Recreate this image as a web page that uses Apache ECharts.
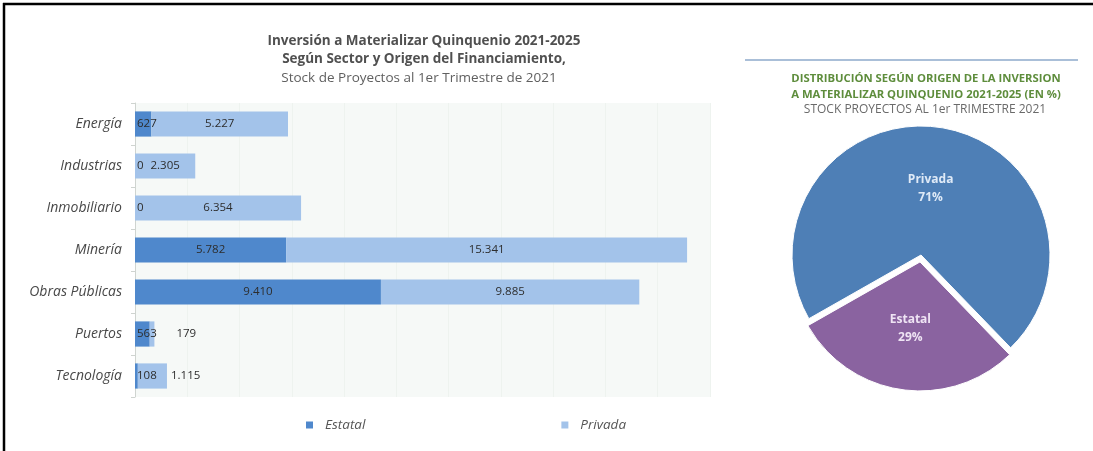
<!DOCTYPE html>
<html>
<head>
<meta charset="utf-8">
<script src="https://cdn.jsdelivr.net/npm/echarts@6/dist/echarts.min.js"></script>
<style>
  html, body { margin: 0; padding: 0; background: #ffffff; }
  #chart { width: 1093px; height: 451px; }
</style>
</head>
<body>
<div id="chart"></div>
<script>
const sectors = ["Energía", "Industrias", "Inmobiliario", "Minería", "Obras Públicas", "Puertos", "Tecnología"];
const estatal = [627, 0, 0, 5782, 9410, 563, 108];
const privada = [5227, 2305, 6354, 15341, 9885, 179, 1115];
const pieNames = ["Estatal", "Privada"];
const pieValues = [29, 71];

const BLUE_DARK = "#4f88cc";
const BLUE_LIGHT = "#a3c3ea";
const FONT = "'Open Sans', 'Noto Sans', sans-serif";

function fmt(v) {
  return String(v).replace(/\B(?=(\d{3})+(?!\d))/g, ".");
}

// small bars get their labels pushed aside, like the original spreadsheet does
function estatalItem(v) {
  if (v < 1000) {
    return { value: v, label: { position: "insideLeft", distance: 2 } };
  }
  return v;
}

function privadaItem(v) {
  if (v < 2000) {
    return { value: v, label: { position: "right", distance: v < 500 ? 22 : 4 } };
  }
  return v;
}

const chart = echarts.init(document.getElementById("chart"));

chart.setOption({
  animation: false,
  backgroundColor: "#ffffff",
  textStyle: { fontFamily: FONT },
  title: [
    {
      text: "Inversión a Materializar Quinquenio 2021-2025\nSegún Sector y Origen del Financiamiento,",
      left: 419,
      top: 27,
      textAlign: "center",
      textStyle: { fontSize: 13.5, fontWeight: "bold", color: "#505050", lineHeight: 18, fontFamily: FONT },
    },
    {
      text: "Stock de Proyectos al 1er Trimestre de 2021",
      left: 414,
      top: 66,
      textAlign: "center",
      textStyle: { fontSize: 13.5, fontWeight: "normal", color: "#606060", fontFamily: FONT },
    },
    {
      text: "DISTRIBUCIÓN SEGÚN ORIGEN DE LA INVERSION\nA MATERIALIZAR QUINQUENIO 2021-2025 (EN %)",
      left: 921,
      top: 66,
      textAlign: "center",
      textStyle: { fontSize: 11.3, fontWeight: "bold", color: "#5e8d3c", lineHeight: 16, fontFamily: FONT },
    },
    {
      text: "STOCK PROYECTOS AL 1er TRIMESTRE 2021",
      left: 920,
      top: 99,
      textAlign: "center",
      textStyle: { fontSize: 12, fontWeight: "normal", color: "#6a6a6a", fontFamily: FONT },
    },
  ],
  graphic: [
    { type: "line", shape: { x1: 3, y1: 4, x2: 1093, y2: 4 }, style: { stroke: "#000", lineWidth: 2.5 } },
    { type: "line", shape: { x1: 4, y1: 3, x2: 4, y2: 451 }, style: { stroke: "#000", lineWidth: 2.5 } },
    { type: "line", shape: { x1: 745, y1: 60, x2: 1078, y2: 60 }, style: { stroke: "#8eaacb", lineWidth: 1.5 } },
  ],
  legend: {
    data: ["Estatal", "Privada"],
    left: 301,
    top: 413,
    itemGap: 196,
    itemWidth: 7,
    itemHeight: 7,
    icon: "rect",
    textStyle: { fontSize: 13.5, fontStyle: "italic", color: "#555", fontFamily: FONT, padding: [0, 0, 0, 7] },
  },
  grid: {
    left: 135,
    top: 103,
    width: 575,
    height: 294,
    show: true,
    backgroundColor: "#f6f9f7",
    borderWidth: 0,
  },
  xAxis: {
    type: "value",
    min: 0,
    max: 22000,
    interval: 2000,
    axisLabel: { show: false },
    axisLine: { show: false },
    axisTick: { show: false },
    splitLine: { lineStyle: { color: "#eef3ef" } },
  },
  yAxis: {
    type: "category",
    data: sectors,
    inverse: true,
    axisLine: { lineStyle: { color: "#cfd4d0" } },
    axisTick: { show: true, length: 4, lineStyle: { color: "#cfd4d0" } },
    axisLabel: { fontSize: 14, fontStyle: "italic", color: "#484848", margin: 13, fontFamily: FONT },
  },
  series: [
    {
      name: "Estatal",
      type: "bar",
      stack: "total",
      barCategoryGap: "40%",
      data: estatal.map(estatalItem),
      itemStyle: { color: BLUE_DARK },
      label: {
        show: true,
        position: "inside",
        fontSize: 11.5,
        color: "#2d2d2d",
        fontFamily: FONT,
        formatter: (p) => fmt(p.value),
      },
    },
    {
      name: "Privada",
      type: "bar",
      stack: "total",
      barCategoryGap: "40%",
      data: privada.map(privadaItem),
      itemStyle: { color: BLUE_LIGHT },
      label: {
        show: true,
        position: "inside",
        fontSize: 11.5,
        color: "#2d2d2d",
        fontFamily: FONT,
        formatter: (p) => fmt(p.value),
      },
    },
    {
      name: "Origen",
      type: "pie",
      center: [921, 255],
      radius: 129,
      startAngle: 314,
      clockwise: true,
      selectedMode: "single",
      selectedOffset: 7,
      legendHoverLink: false,
      data: pieNames.map((n, i) => ({
        name: n,
        value: pieValues[i],
        selected: n === "Estatal",
        itemStyle: { color: n === "Estatal" ? "#8a63a0" : "#4e7fb6" },
        label: { color: n === "Estatal" ? "#efe4f4" : "#dfeaf7" },
      })),
      itemStyle: { borderColor: "#ffffff", borderWidth: 1 },
      label: {
        show: true,
        position: "inside",
        formatter: "{b}\n{c}%",
        fontSize: 12,
        fontWeight: "bold",
        lineHeight: 18,
        fontFamily: FONT,
      },
      labelLine: { show: false },
    },
  ],
});
</script>
</body>
</html>
